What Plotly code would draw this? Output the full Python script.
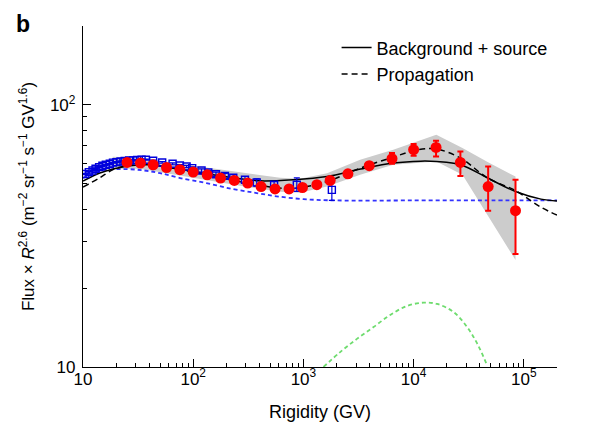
import plotly.graph_objects as go

# red filled circles (rigidity GV, flux x R^2.6)
red_rig = [25.1, 33.2, 43.3, 57.3, 75.7, 100, 134, 177, 236, 312, 413, 553, 741, 980,
           1324, 1748, 2533, 3956, 6364, 10000, 15980, 26570, 47450, 84030]
red_flux = [60.3, 60.0, 59.1, 57.7, 56.6, 55.4, 54.1, 52.6, 51.5, 50.3, 48.8, 47.8, 47.8, 48.4,
            49.6, 51.5, 54.6, 58.6, 62.3, 67.5, 68.8, 60.3, 48.8, 39.5]
red_up = [0.5, 0.5, 0.5, 0.5, 0.5, 0.5, 0.5, 0.5, 0.5, 0.5, 0.5, 0.6, 0.6, 0.7,
          0.8, 0.9, 1.0, 1.5, 3.2, 3.4, 4.2, 6.1, 9.4, 12.3]
red_dn = [0.5, 0.5, 0.5, 0.5, 0.5, 0.5, 0.5, 0.5, 0.5, 0.5, 0.5, 0.6, 0.6, 0.7,
          0.8, 0.9, 1.0, 1.5, 2.7, 3.5, 5.2, 6.7, 9.3, 12.5]

# blue open squares
blue_rig = [10.5, 11.3, 12.2, 13.0, 14.0, 15.0, 16.1, 17.5, 18.7, 20.1, 21.9, 23.9, 26.2, 28.5,
            31.0, 34.0, 37.2, 43.3, 52.3, 65.0, 75.7, 87.1, 97.9, 119, 137, 161, 194, 231,
            295, 377, 542, 871, 1812]
blue_flux = [54.5, 55.4, 56.2, 57.1, 57.9, 58.6, 59.1, 59.6, 60.2, 60.5, 60.8, 61.1, 61.4, 61.4,
             61.6, 61.8, 61.8, 61.2, 60.3, 59.6, 58.7, 58.2, 57.4, 56.2, 55.2, 54.4, 53.6, 52.8,
             51.8, 50.6, 49.6, 49.6, 47.4]
blue_up = [0.3] * 17 + [0.4, 0.4, 0.5, 0.5, 0.6, 0.6, 0.8, 0.9, 1.0, 1.2, 1.4, 1.5, 1.6, 1.4, 3.1, 3.9]
blue_dn = [0.3] * 17 + [0.4, 0.4, 0.5, 0.5, 0.6, 0.6, 0.8, 0.9, 1.0, 1.2, 1.4, 1.5, 1.6, 1.4, 2.8, 4.2]

# model curves
solid_rig = [10, 14.2, 18.7, 26.5, 40.5, 75.7, 141, 266, 404, 806, 1640, 3300, 6530, 11600,
             16070, 26600, 47000, 84000, 143000, 200000]
solid_flux = [51.2, 55.0, 56.9, 58.6, 59.1, 56.8, 54.4, 52.3, 51.3, 51.8, 53.3, 56.9, 60.0, 61.0,
              60.8, 59.1, 52.6, 46.7, 43.7, 43.0]

dash_rig = [10, 14.2, 18.7, 26.5, 40, 60, 100, 200, 400, 700, 1000, 1640, 3300, 6530, 11000,
            16000, 26600, 47000, 84000, 143000, 200000]
dash_flux = [48.6, 52.7, 56.6, 58.9, 59.3, 57.8, 55.4, 52.2, 49.3, 48.0, 48.5, 51.0, 57.4, 63.2, 67.5,
             67.9, 62.7, 52.6, 47.1, 40.7, 38.0]

bkg_rig = [10, 15, 24, 36, 50, 76, 132, 231, 377, 570, 1000, 2000, 10000, 50000, 200000]
bkg_flux = [52.6, 56.2, 56.9, 56.2, 54.9, 52.6, 50.3, 47.7, 46.1, 44.8, 43.7, 43.2, 43.2, 43.2, 43.2]

src_rig = [1520, 2156, 3058, 4325, 6137, 8710, 12330, 16320, 23100, 30590, 37700, 46450]
src_flux = [10.0, 11.4, 12.8, 14.2, 15.8, 17.1, 17.6, 17.4, 16.2, 14.2, 12.3, 10.15]

# grey uncertainty band
band_rig = [18.6, 32.8, 75.7, 266, 614, 933, 1640, 3270, 6530, 16070, 27740, 47370, 84030]
band_hi = [63.4, 62.9, 59.6, 55.2, 52.7, 52.3, 54.9, 61.7, 67.5, 77.0, 68.5, 60.4, 53.3]
band_lo = [57.1, 57.1, 53.6, 49.1, 46.6, 46.2, 48.8, 54.1, 59.1, 60.8, 54.1, 37.5, 25.6]

FONT = "Liberation Sans, Arial, sans-serif"

fig = go.Figure()

fig.add_trace(go.Scatter(x=band_rig + band_rig[::-1], y=band_hi + band_lo[::-1],
                         fill="toself", fillcolor="rgb(204,204,204)", line=dict(width=0),
                         mode="lines", showlegend=False, hoverinfo="skip"))

fig.add_trace(go.Scatter(x=src_rig, y=src_flux, mode="lines", line_shape="spline",
                         line=dict(color="rgb(110,220,110)", width=1.8, dash="4px,3px"),
                         showlegend=False))
fig.add_trace(go.Scatter(x=bkg_rig, y=bkg_flux, mode="lines", line_shape="spline",
                         line=dict(color="rgb(50,50,255)", width=1.8, dash="4px,3px"),
                         showlegend=False))
fig.add_trace(go.Scatter(x=solid_rig, y=solid_flux, mode="lines", line_shape="spline",
                         line=dict(color="black", width=1.5), name="Background + source"))
fig.add_trace(go.Scatter(x=dash_rig, y=dash_flux, mode="lines", line_shape="spline",
                         line=dict(color="black", width=1.5, dash="6px,4px"), name="Propagation"))

fig.add_trace(go.Scatter(x=blue_rig, y=blue_flux, mode="markers",
                         marker=dict(symbol="square-open", size=7, color="rgb(0,0,220)",
                                     line=dict(width=1.4)),
                         error_y=dict(type="data", symmetric=False, array=blue_up, arrayminus=blue_dn,
                                      color="rgb(0,0,220)", thickness=1.2, width=3),
                         showlegend=False))
fig.add_trace(go.Scatter(x=red_rig, y=red_flux, mode="markers",
                         marker=dict(symbol="circle", size=11, color="rgb(255,0,0)"),
                         error_y=dict(type="data", symmetric=False, array=red_up, arrayminus=red_dn,
                                      color="rgb(255,0,0)", thickness=2, width=3),
                         showlegend=False))

x_minor = [m * 10 ** d for d in range(1, 5) for m in range(2, 10)]
y_minor = [m * 10 for m in range(2, 10)]

fig.update_layout(
    width=592, height=436,
    margin=dict(l=75, r=43, t=18, b=77),
    plot_bgcolor="white", paper_bgcolor="white",
    font=dict(family=FONT, size=17, color="black"),
    legend=dict(x=0.535, y=0.99, xanchor="left", yanchor="top", bgcolor="rgba(0,0,0,0)",
                font=dict(family=FONT, size=18), itemwidth=30, tracegroupgap=2),
    xaxis=dict(type="log", range=[1, 5.301], showline=True, linecolor="black", linewidth=1.3,
               ticks="inside", ticklen=8, tickwidth=1.3, tickcolor="black",
               tickvals=[10, 100, 1000, 10000, 100000],
               ticktext=["10", "10<sup>2</sup>", "10<sup>3</sup>", "10<sup>4</sup>", "10<sup>5</sup>"],
               tickfont=dict(family=FONT, size=17),
               ticklabelstandoff=-4, automargin=False,
               minor=dict(tickvals=x_minor, ticks="inside", ticklen=4, tickcolor="black", tickwidth=1),
               showgrid=False, zeroline=False, mirror=False,
               title=dict(text="Rigidity (GV)", standoff=17,
                          font=dict(family=FONT, size=18, color="black"))),
    yaxis=dict(type="log", range=[1, 2.301], showline=True, linecolor="black", linewidth=1.3,
               ticks="inside", ticklen=8, tickwidth=1.3, tickcolor="black",
               tickvals=[10, 100], ticktext=["10", "10<sup>2</sup>"],
               tickfont=dict(family=FONT, size=17),
               ticklabelstandoff=3, automargin=False,
               minor=dict(tickvals=y_minor, ticks="inside", ticklen=4, tickcolor="black", tickwidth=1),
               showgrid=False, zeroline=False, mirror=False,
               title=dict(text="Flux × <i>R</i><sup>2.6</sup> (m<sup>−2</sup> sr<sup>−1</sup> s<sup>−1</sup> GV<sup>1.6</sup>)",
                          standoff=10, font=dict(family=FONT, size=17, color="black"))),
)

fig.add_annotation(text="<b>b</b>", xref="paper", yref="paper", x=-0.145, y=1.05,
                   xanchor="left", yanchor="top", showarrow=False, font=dict(size=23, family=FONT))

fig.write_html("out.html")
